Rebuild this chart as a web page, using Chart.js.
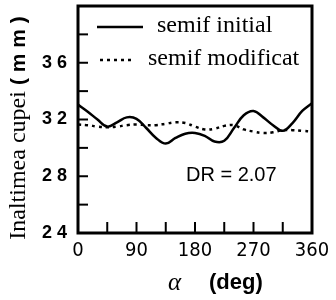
<!DOCTYPE html>
<html>
<head>
<meta charset="utf-8">
<script src="https://cdn.jsdelivr.net/npm/chart.js@4/dist/chart.umd.min.js"></script>
<style>
    html, body { margin: 0; padding: 0; background: #fff; }
    #wrap { width: 336px; height: 300px; }
</style>
</head>
<body>
<div id="wrap"><canvas id="chart" width="336" height="300"></canvas></div>
<script>
const angles = [0, 15, 30, 45, 60, 75, 90, 105, 120, 135, 150, 165, 180, 195, 210, 225, 240, 255, 270, 285, 300, 315, 330, 345, 360];
const semifInitial = [33.05, 32.55, 32.0, 31.5, 31.8, 32.15, 32.05, 31.4, 30.7, 30.3, 30.7, 31.0, 31.05, 30.85, 30.45, 30.5, 31.4, 32.3, 32.6, 32.15, 31.6, 31.2, 31.75, 32.6, 33.15];
const semifModificat = [31.65, 31.6, 31.5, 31.45, 31.5, 31.6, 31.65, 31.6, 31.6, 31.7, 31.8, 31.75, 31.5, 31.3, 31.35, 31.55, 31.6, 31.3, 31.15, 31.05, 31.1, 31.25, 31.25, 31.2, 31.15];
const seriesLabels = ['semif initial', 'semif modificat'];
const yTickLabels = [24, 28, 32, 36];
const xTickLabels = [0, 90, 180, 270, 360];
const annotationText = 'DR = 2.07';

function toPoints(values) {
    return angles.map((a, i) => ({ x: a, y: values[i] }));
}

const framePlugin = {
    id: 'frame',
    afterDraw(chart) {
        const ctx = chart.ctx;
        const area = chart.chartArea;
        const xs = chart.scales.x;
        const ys = chart.scales.y;
        ctx.save();
        ctx.strokeStyle = '#000';

        // inner ticks
        ctx.lineWidth = 2;
        ys.ticks.forEach(t => {
            const y = ys.getPixelForValue(t.value);
            if (t.value === ys.min || t.value === ys.max) return;
            ctx.beginPath();
            ctx.moveTo(area.left, y);
            ctx.lineTo(area.left + 10, y);
            ctx.stroke();
        });
        xs.ticks.forEach(t => {
            const x = xs.getPixelForValue(t.value);
            if (t.value === xs.min || t.value === xs.max) return;
            ctx.beginPath();
            ctx.moveTo(x, area.bottom);
            ctx.lineTo(x, area.bottom - 11);
            ctx.stroke();
        });

        // frame
        ctx.lineWidth = 3;
        ctx.strokeRect(area.left, area.top, area.right - area.left, area.bottom - area.top);

        // legend
        ctx.lineWidth = 2.5;
        ctx.beginPath();
        ctx.moveTo(97, 27);
        ctx.lineTo(143, 27);
        ctx.stroke();
        ctx.setLineDash([3, 4]);
        ctx.beginPath();
        ctx.moveTo(100, 60);
        ctx.lineTo(135, 60);
        ctx.stroke();
        ctx.setLineDash([]);
        ctx.fillStyle = '#000';
        ctx.textBaseline = 'middle';
        ctx.textAlign = 'left';
        ctx.font = '24px "Liberation Serif"';
        ctx.fillText(seriesLabels[0], 157, 26);
        ctx.fillText(seriesLabels[1], 148, 59);

        // annotation
        ctx.font = '20px "Liberation Sans"';
        ctx.fillText(annotationText, 186, 175);

        // y title
        ctx.save();
        ctx.translate(19, 128);
        ctx.rotate(-Math.PI / 2);
        const part1 = 'Inaltimea cupei ';
        const part2 = '( m m )';
        ctx.font = 'bold 21px "Liberation Sans"';
        const w2 = ctx.measureText(part2).width;
        ctx.font = '24px "Liberation Serif"';
        const w1 = ctx.measureText(part1).width;
        const start = -(w1 + w2) / 2;
        ctx.fillText(part1, start, 0);
        ctx.font = 'bold 21px "Liberation Sans"';
        ctx.fillText(part2, start + w1, 0);
        ctx.restore();

        // x title
        ctx.textAlign = 'left';
        ctx.font = 'italic 25px "Liberation Serif"';
        ctx.fillText('\u03b1', 168, 283);
        ctx.font = 'bold 22px "Liberation Sans"';
        ctx.fillText('(deg)', 209, 283);
        ctx.restore();
    }
};

new Chart(document.getElementById('chart'), {
    type: 'line',
    data: {
        datasets: [
            {
                label: seriesLabels[0],
                data: toPoints(semifInitial),
                borderColor: '#000',
                borderWidth: 2.5,
                pointRadius: 0,
                tension: 0.4,
                fill: false,
            },
            {
                label: seriesLabels[1],
                data: toPoints(semifModificat),
                borderColor: '#000',
                borderWidth: 2.5,
                borderDash: [3, 4],
                pointRadius: 0,
                tension: 0.4,
                fill: false,
            },
        ],
    },
    options: {
        responsive: false,
        animation: false,
        layout: {
            padding: { top: 6, right: 24, left: 0, bottom: 0 },
        },
        plugins: {
            legend: { display: false },
            tooltip: { enabled: false },
        },
        scales: {
            x: {
                type: 'linear',
                min: 0,
                max: 360,
                border: { display: false },
                grid: { display: false },
                ticks: {
                    stepSize: 45,
                    padding: -2,
                    color: '#000',
                    font: { family: '"DejaVu Sans Condensed"', size: 20 },
                    maxRotation: 0,
                    autoSkip: false,
                    callback: value => xTickLabels.includes(value) ? String(value) : '',
                },
                afterFit(scale) {
                    scale.height = 67;
                    scale.paddingLeft = 0;
                    scale.paddingRight = 0;
                },
            },
            y: {
                min: 24,
                max: 40,
                border: { display: false },
                grid: { display: false },
                ticks: {
                    stepSize: 2,
                    padding: 3,
                    color: '#000',
                    font: { family: '"Liberation Sans"', size: 18, weight: 'bold' },
                    autoSkip: false,
                    callback: value => yTickLabels.includes(value) ? String(value).split('').join(' ') : '',
                },
                afterFit(scale) {
                    scale.width = 78;
                    scale.paddingTop = 0;
                    scale.paddingBottom = 0;
                },
            },
        },
    },
    plugins: [framePlugin],
});
</script>
</body>
</html>
